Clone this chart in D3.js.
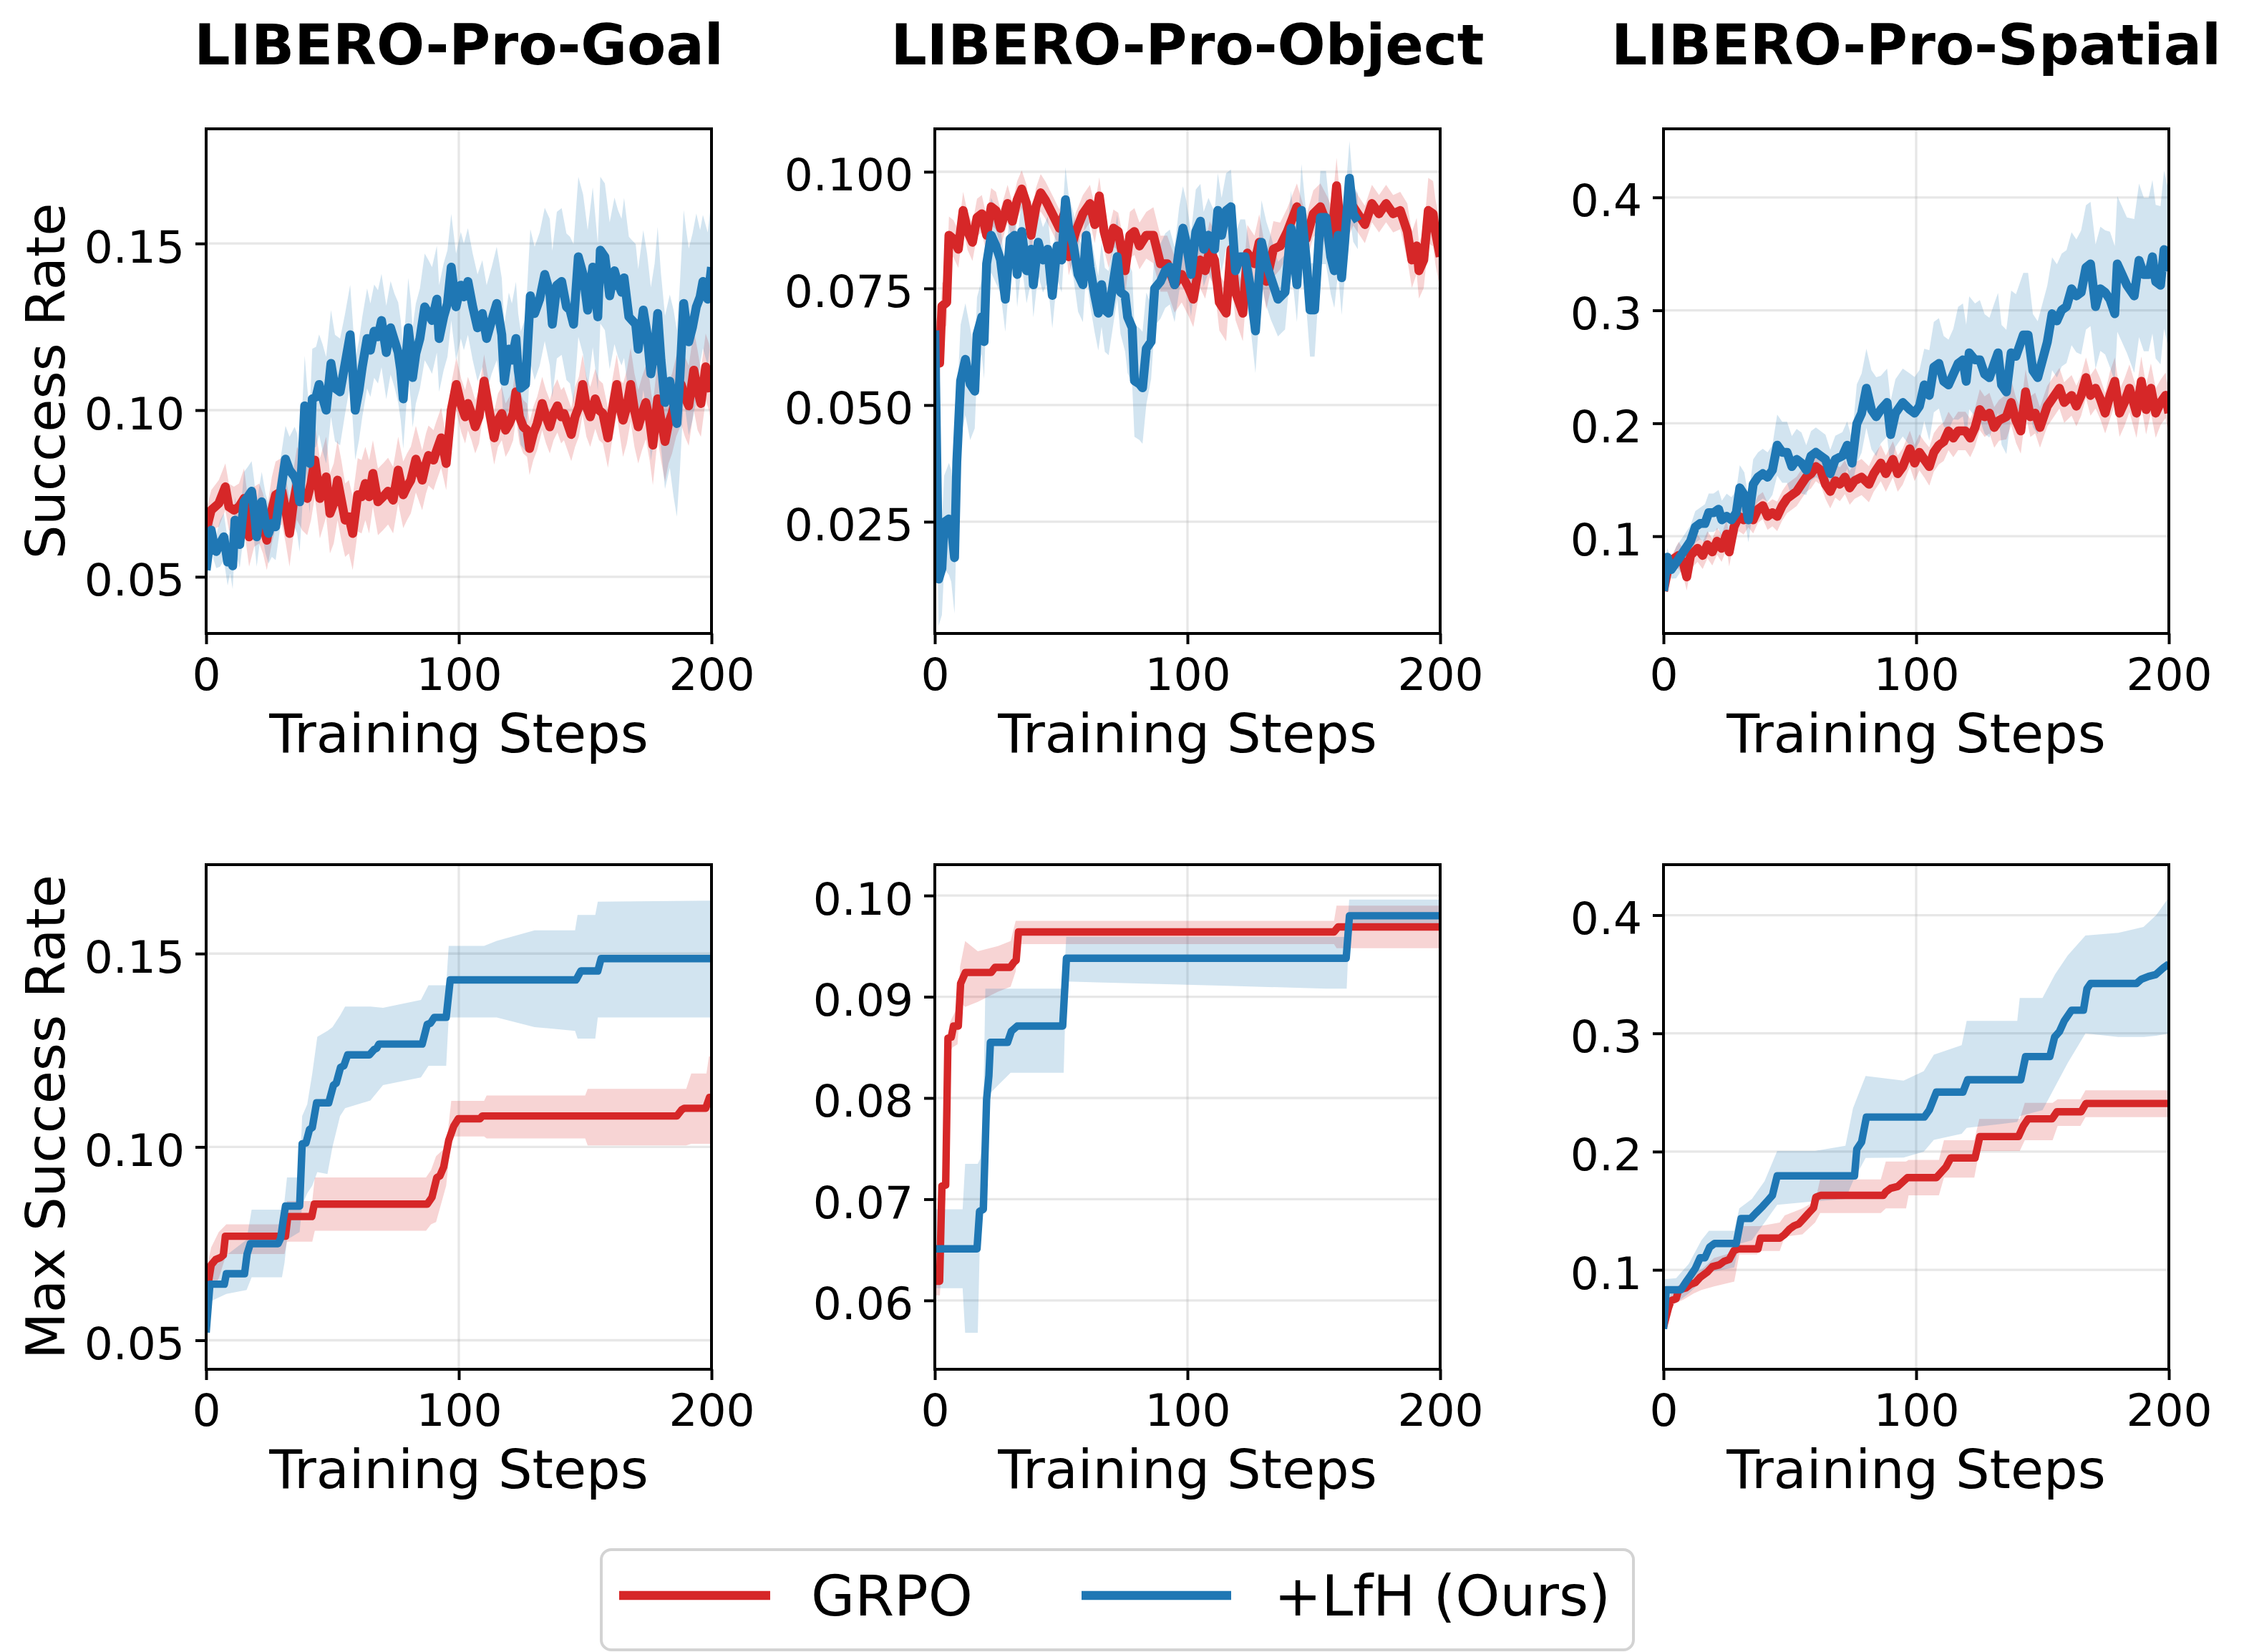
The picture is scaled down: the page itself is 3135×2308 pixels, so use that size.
<!DOCTYPE html>
<html><head><meta charset="utf-8">
<script src="https://cdn.jsdelivr.net/npm/d3@7"></script>
<style>
body{margin:0;background:#fff}
svg{display:block}
text{font-family:"DejaVu Sans",sans-serif;fill:#000}
</style>
</head><body>
<svg id="chart" width="3135" height="2308"></svg>
<script>
// ---------------- DATA ----------------
const datasetTitles = ["LIBERO-Pro-Goal", "LIBERO-Pro-Object", "LIBERO-Pro-Spatial"];
const methodNames = ["GRPO", "+LfH (Ours)"];
const rowLabels = ["Success Rate", "Max Success Rate"];
const xLabel = "Training Steps";
const xTickValues = [0, 100, 200];
const xTickLabels = ["0", "100", "200"];

// y axis limits and tick labels per panel
const yLimGoalSR = [0.033, 0.1844];
const yLimObjectSR = [0.00106, 0.1092];
const yLimSpatialSR = [0.0139, 0.4607];
const yLimGoalMax = [0.0425, 0.173];
const yLimObjectMax = [0.0532, 0.10305];
const yLimSpatialMax = [0.0159, 0.4427];
const yTicksGoalSR = [0.05, 0.10, 0.15];
const yTickLabelsGoalSR = ["0.05", "0.10", "0.15"];
const yTicksObjectSR = [0.025, 0.050, 0.075, 0.100];
const yTickLabelsObjectSR = ["0.025", "0.050", "0.075", "0.100"];
const yTicksSpatialSR = [0.1, 0.2, 0.3, 0.4];
const yTickLabelsSpatialSR = ["0.1", "0.2", "0.3", "0.4"];
const yTicksGoalMax = [0.05, 0.10, 0.15];
const yTickLabelsGoalMax = ["0.05", "0.10", "0.15"];
const yTicksObjectMax = [0.06, 0.07, 0.08, 0.09, 0.10];
const yTickLabelsObjectMax = ["0.06", "0.07", "0.08", "0.09", "0.10"];
const yTicksSpatialMax = [0.1, 0.2, 0.3, 0.4];
const yTickLabelsSpatialMax = ["0.1", "0.2", "0.3", "0.4"];

// ---- Row 1: success rate, [step, mean] ----
const goalSR_grpo = [[0,0.064],[2,0.070],[5,0.072],[7.6,0.077],[9,0.071],[11,0.070],[13,0.071],[15,0.0735],[17,0.062],[19,0.068],[21,0.069],[22.5,0.066],[24,0.061],[26,0.070],[27.5,0.0746],[30,0.0757],[31.5,0.070],[33,0.063],[34.5,0.072],[36,0.078],[38,0.075],[40,0.0735],[41.5,0.078],[43,0.085],[45,0.0735],[47.5,0.080],[49,0.069],[50.5,0.072],[52,0.079],[53.5,0.073],[55,0.067],[56.5,0.068],[58,0.063],[60,0.0746],[61.5,0.074],[63,0.078],[64.5,0.074],[66,0.081],[68,0.0725],[70,0.074],[72,0.0757],[74,0.073],[76,0.082],[78,0.0746],[79.5,0.077],[81,0.079],[83,0.0853],[85.5,0.079],[87,0.084],[88,0.0864],[90,0.085],[91,0.0874],[93,0.0917],[95,0.084],[97,0.100],[99,0.1077],[101,0.1013],[102.5,0.098],[103.6,0.102],[105,0.099],[106.5,0.095],[108,0.098],[110,0.1087],[112,0.100],[114,0.0917],[115.5,0.097],[117,0.099],[118.5,0.094],[120,0.096],[121.5,0.099],[122.6,0.1055],[124,0.098],[125.5,0.095],[127,0.094],[128,0.0885],[129.5,0.093],[131,0.096],[133,0.102],[134.5,0.098],[136,0.095],[137.5,0.099],[139,0.1013],[140.5,0.098],[141.6,0.099],[143,0.096],[144.5,0.0927],[146,0.098],[147.5,0.101],[149,0.1077],[150.5,0.101],[152,0.098],[154,0.1034],[155.5,0.100],[157,0.099],[159,0.0917],[160.5,0.099],[162.5,0.1077],[164,0.100],[165,0.097],[166.5,0.101],[168,0.1077],[169.5,0.100],[171,0.095],[172.5,0.099],[174,0.1023],[175.5,0.097],[176.8,0.0895],[178.7,0.1034],[180,0.097],[181.6,0.0906],[183,0.096],[184.4,0.099],[186,0.104],[188,0.1077],[189.5,0.104],[191,0.1013],[193,0.112],[194.5,0.106],[195.8,0.102],[197.7,0.113],[199,0.110],[200,0.1055]];
const goalSR_lfh = [[0,0.052],[1,0.058],[2,0.064],[3,0.060],[4,0.0576],[5.5,0.060],[7,0.062],[8.5,0.0544],[9.5,0.058],[10.5,0.0533],[11.4,0.067],[12.5,0.062],[13.3,0.0597],[15,0.0725],[16.5,0.074],[18,0.0757],[19,0.070],[20,0.062],[21,0.068],[22,0.0725],[23.5,0.066],[24.7,0.063],[26,0.066],[27.5,0.065],[29.5,0.0757],[31.4,0.0853],[33,0.082],[35,0.080],[36,0.078],[37,0.0725],[38,0.085],[39,0.1013],[40,0.092],[41,0.084],[42,0.1034],[43.5,0.104],[44.7,0.1077],[46,0.104],[47.5,0.100],[49.4,0.114],[51,0.1066],[53,0.1055],[55,0.114],[57,0.1226],[58,0.112],[59,0.100],[60.5,0.106],[61.8,0.113],[63.7,0.1215],[65,0.118],[66.5,0.1237],[68,0.122],[69.4,0.1269],[71.3,0.1173],[73,0.1247],[74.5,0.121],[76,0.1173],[77,0.112],[78,0.1034],[79,0.114],[80,0.1247],[81,0.118],[81.7,0.1098],[83,0.117],[84.6,0.1215],[86.5,0.131],[88,0.129],[89.4,0.1269],[91.3,0.1333],[92.2,0.1215],[94,0.128],[95.5,0.132],[97,0.1429],[98.9,0.131],[100.8,0.1375],[102,0.134],[103.6,0.1386],[105.5,0.131],[107.4,0.1247],[109.3,0.129],[111,0.1215],[113,0.1269],[115,0.132],[117,0.1226],[118,0.1087],[119.8,0.1183],[121,0.115],[122.6,0.1215],[123.5,0.112],[124.5,0.1066],[126.4,0.1077],[128.3,0.1343],[130,0.129],[132,0.1333],[134,0.1407],[136,0.1354],[137,0.1258],[138.8,0.1375],[140.7,0.1386],[142.6,0.131],[144,0.130],[145.4,0.1258],[147.3,0.146],[149.2,0.1407],[151,0.130],[153,0.1429],[155,0.128],[156,0.148],[157.8,0.146],[159.7,0.1343],[161.6,0.1418],[163,0.138],[164.4,0.1354],[165.4,0.1397],[167.3,0.128],[168.5,0.127],[170,0.1258],[171,0.1183],[173,0.130],[174.5,0.123],[176,0.1109],[177.5,0.118],[178.7,0.129],[180,0.115],[181.6,0.1023],[183.5,0.1087],[185,0.102],[186.3,0.096],[187.5,0.110],[189,0.132],[190,0.126],[191,0.1205],[192.5,0.125],[194,0.131],[195.5,0.134],[196.6,0.1386],[198.5,0.1333],[200,0.1429]];
const objectSR_grpo = [[0,0.066],[1.9,0.059],[2.8,0.0712],[4.7,0.072],[5.6,0.0864],[7.4,0.0856],[9.3,0.0834],[11.2,0.0917],[13,0.0872],[14.9,0.0849],[16.7,0.0902],[18.6,0.091],[20.5,0.0864],[22.3,0.0925],[24.2,0.0917],[26,0.0879],[28.8,0.0932],[30.7,0.0894],[32.6,0.094],[34.4,0.0963],[36.3,0.0932],[38.1,0.0864],[40,0.0925],[41.9,0.0955],[43.7,0.094],[46.5,0.091],[49.3,0.0879],[51.2,0.091],[53,0.0818],[55.8,0.0872],[58.6,0.091],[61.4,0.0932],[63.3,0.0887],[65.1,0.0948],[67,0.0872],[68.8,0.0834],[70.7,0.0879],[72.6,0.0872],[75.3,0.0788],[77.2,0.0864],[79,0.0872],[81,0.0841],[83.7,0.0864],[86.5,0.0864],[89.3,0.0803],[92,0.0803],[94.9,0.0758],[97.7,0.078],[100.5,0.075],[102.3,0.0727],[105,0.0811],[107,0.0788],[108.8,0.0834],[110.7,0.0811],[112.6,0.072],[115.3,0.0697],[117.2,0.0834],[119,0.0742],[121.9,0.0697],[123.7,0.0826],[126.5,0.0803],[128.4,0.0849],[131.2,0.0765],[134,0.0834],[136.7,0.0841],[139.5,0.0872],[143.3,0.0925],[147,0.0856],[149.8,0.091],[152.6,0.0925],[155.3,0.0887],[157.2,0.0864],[159,0.097],[161,0.0849],[162.8,0.091],[165.6,0.0925],[168.4,0.0902],[170.2,0.0887],[173,0.0932],[175.8,0.091],[178.6,0.0932],[181.4,0.091],[184.2,0.0917],[187,0.0872],[188.8,0.0811],[190.7,0.0841],[191.6,0.0788],[193.5,0.0811],[195.3,0.0917],[197.2,0.091],[198.1,0.0872],[200,0.0818]];
const objectSR_lfh = [[0,0.066],[1.5,0.0127],[2.8,0.015],[3.7,0.0249],[5.6,0.0256],[6.5,0.0241],[7.8,0.0173],[8.7,0.0378],[10.2,0.0552],[12.1,0.0598],[14,0.0545],[15.8,0.053],[16.7,0.0651],[18.6,0.0689],[19.5,0.0636],[20.5,0.0803],[22.3,0.0864],[24.2,0.0841],[26,0.0811],[27.9,0.0727],[29.8,0.0856],[31.6,0.0864],[32.6,0.078],[34.4,0.0872],[36.3,0.0788],[38.1,0.0834],[39,0.0758],[40.9,0.0849],[42.8,0.0811],[44.7,0.0834],[46.5,0.0735],[48.4,0.0841],[50.2,0.0811],[51.7,0.094],[53,0.0879],[54.9,0.0841],[56.7,0.078],[58.6,0.0758],[59.9,0.0864],[61.4,0.0796],[63.3,0.0735],[64.7,0.0697],[66,0.0758],[67.3,0.0704],[68.8,0.0697],[70.7,0.0765],[72.2,0.0818],[73.5,0.0742],[75.3,0.0735],[76.3,0.0689],[78.1,0.0666],[79,0.0552],[81,0.0545],[82.2,0.0537],[83.7,0.0621],[85.6,0.0636],[87,0.075],[89.3,0.0765],[91.2,0.0788],[93,0.0796],[94.9,0.0758],[96.7,0.0834],[98.2,0.0879],[99.5,0.0849],[101.4,0.078],[103.3,0.0872],[105.1,0.0894],[106.4,0.0834],[108.3,0.0864],[110.7,0.0834],[112,0.0917],[113.5,0.0864],[115.3,0.0917],[117.2,0.0925],[119,0.0788],[120.9,0.0818],[122.8,0.0818],[124.7,0.0758],[126.9,0.0659],[129.3,0.0849],[131.2,0.0803],[133,0.0773],[135.8,0.0727],[138.6,0.0742],[141,0.0879],[143.3,0.0758],[145.1,0.0917],[147,0.0811],[148.5,0.0704],[150.3,0.0704],[152.6,0.0902],[154.8,0.0902],[156.7,0.0818],[158.1,0.0788],[159.6,0.0864],[161,0.0773],[162.2,0.0849],[164.1,0.0986],[165.6,0.091],[167.4,0.0894]];
const spatialSR_grpo = [[0,0.0515],[2,0.0736],[4,0.080],[6,0.083],[7.8,0.0767],[9.2,0.064],[10.7,0.083],[13.5,0.0893],[15.5,0.083],[17.4,0.0924],[19.3,0.0861],[21.2,0.0956],[23,0.0893],[25,0.1019],[26,0.0861],[27.9,0.1082],[29.8,0.1176],[31.7,0.1145],[33.6,0.1208],[35.5,0.1145],[37.4,0.1239],[39.3,0.1271],[41.2,0.1176],[43.1,0.1208],[45,0.1176],[47,0.1271],[48.9,0.1334],[50.8,0.1365],[52.7,0.1397],[54.6,0.146],[56.5,0.1523],[58.4,0.1554],[60.3,0.1617],[62.2,0.1585],[64.1,0.146],[66,0.1397],[68,0.1491],[69.8,0.146],[71.8,0.1523],[73.7,0.1428],[75.6,0.1491],[78.4,0.1523],[81.3,0.146],[83.2,0.1554],[86,0.1648],[88,0.1554],[90.8,0.168],[92.7,0.1554],[94.7,0.1617],[97.5,0.1774],[99.4,0.1648],[101.3,0.1743],[103.2,0.168],[105.2,0.1617],[107,0.1743],[109,0.1806],[110.9,0.1837],[112.8,0.1932],[114.7,0.1869],[116.6,0.1932],[119.5,0.1932],[121.4,0.1869],[123.3,0.1963],[125.2,0.2121],[127.1,0.2058],[129,0.209],[130.9,0.1963],[132.8,0.2026],[135.7,0.2058],[137.6,0.2184],[139.5,0.2026],[141.4,0.1932],[143.3,0.2278],[145.2,0.2058],[147.1,0.209],[149,0.1963],[151.9,0.2152],[154.8,0.2247],[156.7,0.231],[158.6,0.2184],[161.5,0.2247],[163.4,0.2152],[165.3,0.2247],[167.2,0.2404],[169,0.2247],[171,0.231],[172.9,0.2215],[174.8,0.209],[176.7,0.2247],[178.6,0.2372],[180.5,0.209],[182.4,0.2184],[184.4,0.231],[187.2,0.209],[189.1,0.2372],[191,0.2121],[192.9,0.231],[194.8,0.209],[196.7,0.2184],[198.7,0.2247],[200,0.209]];
const spatialSR_lfh = [[0,0.0515],[1.5,0.0814],[3,0.0704],[5,0.0767],[6.9,0.083],[8.8,0.0893],[10.7,0.0956],[12.6,0.1082],[14.5,0.1113],[16.4,0.1113],[17.9,0.1208],[19.8,0.1208],[21.8,0.1239],[23.1,0.1145],[25,0.1176],[26.9,0.1145],[28.8,0.1208],[30.2,0.1428],[32,0.1365],[33.6,0.1145],[35.5,0.146],[37.4,0.1523],[39.3,0.1554],[41.2,0.1523],[43.1,0.1585],[45,0.1806],[47,0.1743],[48.9,0.1743],[50.8,0.1617],[52.7,0.168],[54.6,0.1648],[56.5,0.1585],[58.4,0.1711],[60.3,0.1743],[62.2,0.1711],[64.1,0.168],[66,0.1554],[68,0.168],[70.8,0.1711],[72.7,0.1806],[74.6,0.1648],[76.5,0.1995],[78.4,0.2089],[80.3,0.231],[82.3,0.212],[84.2,0.2058],[86,0.2121],[88.5,0.2184],[89.9,0.19],[91.8,0.209],[94.7,0.2184],[97.5,0.2121],[99.4,0.209],[101.3,0.2152],[103.2,0.234],[105.2,0.2247],[107,0.2498],[109,0.253],[110.9,0.2372],[112.8,0.234],[114.7,0.2435],[116.6,0.253],[118.5,0.2561],[119.8,0.2372],[121,0.2624],[123.3,0.2561],[125.2,0.2561],[127.1,0.2435],[129,0.2404],[130.9,0.253],[132.4,0.2624],[133.8,0.234],[135.7,0.2278],[137.6,0.2624],[139.5,0.2593],[142.4,0.2782],[144.3,0.2782],[146.2,0.2467],[148.1,0.2404],[150,0.2561],[151.9,0.2719],[153.8,0.297],[155.7,0.2907],[157.6,0.3003],[159.5,0.3033],[161.5,0.3191],[163.4,0.3128],[165.3,0.3159],[167.2,0.338],[169,0.3411],[171,0.3033],[172.9,0.3191],[174.8,0.3159],[176.7,0.3096],[178.6,0.297],[179.6,0.3411],[181.5,0.3317],[183.4,0.3222],[186.3,0.3128],[188.2,0.3442],[190.1,0.3317],[192,0.3317],[193.5,0.3474],[194.8,0.3254],[196.7,0.3222],[198.1,0.3537],[200,0.3348]];

// ---- Row 1: standard deviation, sampled every 10 steps (0..200) ----
const sdSteps = [0,10,20,30,40,50,60,70,80,90,100,110,120,130,140,150,160,170,180,190,200];
const goalSR_grpo_sd = [0.006,0.007,0.009,0.010,0.011,0.012,0.011,0.010,0.010,0.009,0.008,0.008,0.008,0.008,0.008,0.009,0.009,0.011,0.012,0.012,0.010];
const goalSR_lfh_sd = [0.005,0.007,0.009,0.010,0.015,0.016,0.015,0.014,0.015,0.016,0.016,0.016,0.017,0.020,0.022,0.024,0.022,0.024,0.026,0.028,0.020];
const objectSR_grpo_sd = [0.005,0.004,0.004,0.004,0.004,0.004,0.004,0.004,0.005,0.006,0.006,0.006,0.006,0.006,0.005,0.005,0.006,0.004,0.004,0.006,0.007];
const objectSR_lfh_sd = [0.010,0.012,0.008,0.007,0.007,0.007,0.008,0.009,0.012,0.008,0.009,0.008,0.008,0.009,0.008,0.010,0.008,0.006,0.006,0.006,0.006];
const spatialSR_grpo_sd = [0.006,0.012,0.012,0.013,0.012,0.013,0.013,0.015,0.016,0.016,0.016,0.017,0.017,0.018,0.020,0.018,0.018,0.018,0.021,0.022,0.020];
const spatialSR_lfh_sd = [0.008,0.014,0.017,0.020,0.022,0.027,0.022,0.021,0.035,0.030,0.032,0.040,0.050,0.053,0.055,0.050,0.050,0.055,0.060,0.068,0.070];

// ---- Row 2: max success rate, [step, value] ----
const goalMax_grpo = [[0,0.065],[1,0.0654],[2,0.0695],[3.8,0.0709],[5.7,0.0714],[6.8,0.0720],[7.6,0.0769],[31.4,0.0769],[32.3,0.0820],[41.8,0.0820],[42.8,0.0852],[87.5,0.0852],[89.4,0.087],[91.3,0.0921],[92.5,0.0925],[94,0.0948],[96,0.1017],[98,0.1054],[99.8,0.1073],[108.4,0.1073],[109.3,0.108],[186.3,0.108],[188.2,0.1096],[189.2,0.110],[197.7,0.110],[199.2,0.1128],[200,0.1128]];
const goalMax_lfh = [[0,0.052],[1.5,0.0645],[7.2,0.0645],[8,0.0672],[15.2,0.0672],[16.2,0.0723],[17.5,0.075],[28.5,0.075],[29.5,0.0764],[30.4,0.0806],[31.4,0.0847],[37,0.0847],[38,0.1008],[39.5,0.101],[40.9,0.1045],[42,0.105],[43.7,0.1114],[48.5,0.1114],[50.4,0.116],[51.5,0.1165],[53.2,0.1206],[54.5,0.121],[56,0.1238],[64.6,0.1238],[66.5,0.1252],[67.5,0.1255],[68.4,0.1266],[85.5,0.1266],[87.5,0.1317],[88.8,0.132],[90.3,0.1335],[95,0.1335],[96.6,0.1432],[146.4,0.1432],[148.3,0.1455],[155,0.1455],[156.3,0.1487],[200,0.1487]];
const objectMax_grpo = [[0,0.0619],[1.9,0.0619],[2.8,0.0713],[4.3,0.0714],[5.2,0.0859],[6.5,0.0860],[7.4,0.0871],[9.3,0.0871],[10.2,0.0913],[12.1,0.0924],[22.3,0.0924],[23.8,0.0929],[29.8,0.0929],[31.3,0.0934],[32.2,0.0936],[33.1,0.0964],[158,0.0964],[159.6,0.0969],[200,0.0969]];
const objectMax_lfh = [[0,0.0651],[16.7,0.0651],[17.7,0.0688],[19.2,0.0690],[20.5,0.0799],[21.4,0.0822],[22,0.0855],[28.8,0.0855],[30.3,0.0866],[32.6,0.0871],[50.6,0.0871],[52.1,0.0938],[162.8,0.0938],[164.1,0.098],[200,0.098]];
const spatialMax_grpo = [[0,0.0515],[2,0.068],[3,0.074],[5,0.0756],[6,0.0831],[8.8,0.0846],[10.7,0.0877],[12.6,0.0892],[14.5,0.0937],[17.4,0.0982],[19.3,0.1027],[22.1,0.1042],[24,0.1072],[26,0.1087],[27.9,0.1163],[29.8,0.1178],[37.4,0.1178],[38.4,0.1268],[46,0.1268],[47.9,0.1298],[49.8,0.1343],[51.7,0.1373],[53.6,0.1389],[55.5,0.1434],[57.4,0.1479],[59.4,0.1524],[60.3,0.1614],[62.2,0.163],[87,0.163],[88,0.166],[89.9,0.169],[92.7,0.1705],[96.6,0.178],[108,0.178],[109.9,0.1825],[111.8,0.187],[113.7,0.1946],[123.3,0.1946],[125.2,0.2127],[140.5,0.2127],[142.4,0.2217],[144.3,0.2277],[153.8,0.2277],[155.7,0.2337],[165.3,0.2337],[167.2,0.2407],[200,0.2407]];
const spatialMax_lfh = [[0,0.050],[1.1,0.0831],[6.9,0.0831],[7.8,0.0861],[9.2,0.0907],[10.7,0.0952],[12.6,0.1012],[14.5,0.1102],[16.4,0.1102],[18.3,0.1193],[20.2,0.1223],[28.8,0.1223],[30.7,0.1434],[34.5,0.1434],[36.5,0.1479],[39.3,0.1539],[41.2,0.1584],[43.1,0.163],[45,0.1795],[75.6,0.1795],[76.5,0.2021],[78.4,0.2081],[80.3,0.2292],[103.2,0.2292],[105.2,0.2352],[108,0.2503],[118.5,0.2503],[120.4,0.2608],[141.4,0.2608],[143.3,0.2804],[152.9,0.2804],[154.8,0.297],[156.7,0.3015],[158.6,0.3105],[161.5,0.3196],[166.2,0.3196],[167.6,0.3377],[169,0.3422],[187.2,0.3422],[189.1,0.3458],[192,0.3482],[194.8,0.3497],[198,0.3557],[200,0.3587]];

// ---- Row 2: bands, [step, low, high] ----
const goalMax_grpo_band = [[0,0.060,0.068],[2,0.063,0.074],[5,0.066,0.078],[8,0.0723,0.080],[31,0.0723,0.080],[32,0.0755,0.086],[42,0.0755,0.086],[43,0.0783,0.0921],[87,0.0783,0.0921],[89,0.0800,0.094],[91,0.0806,0.0976],[95,0.0900,0.100],[97,0.1027,0.1119],[110,0.1027,0.1119],[111,0.1022,0.1133],[150,0.1022,0.1133],[151,0.1004,0.115],[190,0.1004,0.115],[192,0.1008,0.119],[198,0.1008,0.119],[199,0.1008,0.1234],[200,0.1008,0.1234]];
const goalMax_lfh_band = [[0,0.052,0.056],[1.5,0.060,0.068],[8,0.062,0.072],[16,0.063,0.076],[18,0.0663,0.0838],[30,0.0663,0.0838],[31,0.070,0.086],[32,0.076,0.0921],[37,0.078,0.0921],[38,0.085,0.108],[40,0.088,0.111],[42,0.090,0.119],[44,0.0935,0.1285],[48,0.093,0.130],[50,0.100,0.131],[53,0.108,0.134],[55,0.110,0.1363],[65,0.112,0.1363],[70,0.116,0.136],[85,0.118,0.138],[88,0.121,0.1418],[95,0.121,0.1418],[96,0.1335,0.152],[110,0.1335,0.152],[115,0.1335,0.1533],[130,0.131,0.156],[146,0.130,0.156],[147,0.128,0.160],[154,0.128,0.160],[155,0.1335,0.1634],[200,0.1335,0.1637]];
const objectMax_grpo_band = [[0,0.0605,0.063],[2,0.0605,0.063],[3,0.065,0.070],[5,0.074,0.086],[6,0.0845,0.0875],[7,0.085,0.088],[9,0.0853,0.089],[10,0.0895,0.093],[12,0.089,0.0955],[17,0.0895,0.0945],[25,0.0905,0.095],[30,0.091,0.0955],[32,0.0925,0.0975],[33,0.0952,0.0975],[158,0.0952,0.0975],[159,0.0948,0.0990],[200,0.0948,0.0990]];
const objectMax_lfh_band = [[0,0.0612,0.069],[11,0.0612,0.069],[12,0.0568,0.0735],[17,0.0568,0.0735],[18,0.0677,0.0740],[19,0.0690,0.0760],[20,0.080,0.0908],[22,0.0805,0.0908],[30,0.0825,0.0908],[51,0.0825,0.0908],[52,0.0915,0.0959],[113,0.0911,0.0959],[155,0.0908,0.0959],[163,0.0908,0.0959],[164,0.0966,0.0996],[200,0.0966,0.0996]];
const spatialMax_grpo_band = [[0,0.048,0.056],[3,0.070,0.080],[5,0.072,0.084],[8,0.075,0.092],[12,0.080,0.098],[15,0.083,0.100],[20,0.086,0.110],[28,0.090,0.115],[30,0.113,0.137],[37,0.113,0.137],[38,0.116,0.137],[46,0.116,0.140],[48,0.128,0.146],[55,0.130,0.152],[60,0.140,0.158],[62,0.148,0.1765],[86,0.148,0.1765],[88,0.152,0.1916],[96,0.152,0.1916],[97,0.163,0.193],[109,0.163,0.193],[111,0.178,0.2096],[123,0.178,0.2096],[125,0.2006,0.2277],[141,0.2006,0.2277],[143,0.2096,0.2413],[154,0.2096,0.2413],[156,0.2217,0.2443],[165,0.2217,0.2443],[167,0.2292,0.2518],[200,0.2292,0.2518]];
const spatialMax_lfh_band = [[0,0.070,0.092],[5,0.072,0.093],[10,0.080,0.105],[15,0.090,0.125],[18,0.098,0.133],[28,0.102,0.133],[30,0.122,0.152],[35,0.125,0.160],[40,0.140,0.175],[45,0.155,0.2006],[60,0.158,0.2006],[72,0.160,0.205],[75,0.175,0.2367],[80,0.1946,0.264],[95,0.195,0.260],[103,0.200,0.268],[107,0.210,0.282],[118,0.215,0.290],[120,0.220,0.3105],[140,0.225,0.3105],[141,0.230,0.330],[150,0.235,0.330],[155,0.255,0.350],[160,0.275,0.366],[167,0.300,0.3828],[180,0.297,0.385],[190,0.297,0.390],[195,0.298,0.400],[200,0.300,0.415]];

// ---------------- LAYOUT / STYLE ----------------
const COLORS = ["#d62728", "#1f77b4"];
const FONT = '"DejaVu Sans", sans-serif';
const colLeft = [288, 1306, 2324];
const rowTop = [180, 1208];
const PW = 706, PH = 705;

const panels = [
  {r:0,c:0,ylim:yLimGoalSR,ticks:yTicksGoalSR,labels:yTickLabelsGoalSR,mean:[goalSR_grpo,goalSR_lfh],sd:[goalSR_grpo_sd,goalSR_lfh_sd]},
  {r:0,c:1,ylim:yLimObjectSR,ticks:yTicksObjectSR,labels:yTickLabelsObjectSR,mean:[objectSR_grpo,objectSR_lfh],sd:[objectSR_grpo_sd,objectSR_lfh_sd]},
  {r:0,c:2,ylim:yLimSpatialSR,ticks:yTicksSpatialSR,labels:yTickLabelsSpatialSR,mean:[spatialSR_grpo,spatialSR_lfh],sd:[spatialSR_grpo_sd,spatialSR_lfh_sd]},
  {r:1,c:0,ylim:yLimGoalMax,ticks:yTicksGoalMax,labels:yTickLabelsGoalMax,mean:[goalMax_grpo,goalMax_lfh],band:[goalMax_grpo_band,goalMax_lfh_band]},
  {r:1,c:1,ylim:yLimObjectMax,ticks:yTicksObjectMax,labels:yTickLabelsObjectMax,mean:[objectMax_grpo,objectMax_lfh],band:[objectMax_grpo_band,objectMax_lfh_band]},
  {r:1,c:2,ylim:yLimSpatialMax,ticks:yTicksSpatialMax,labels:yTickLabelsSpatialMax,mean:[spatialMax_grpo,spatialMax_lfh],band:[spatialMax_grpo_band,spatialMax_lfh_band]}
];

const svg = d3.select("#chart");
svg.append("rect").attr("width",3135).attr("height",2308).attr("fill","#fff");
const defs = svg.append("defs");

panels.forEach((p, i) => {
  const x0 = colLeft[p.c], y0 = rowTop[p.r];
  const x = d3.scaleLinear().domain([0,200]).range([x0, x0+PW]);
  const y = d3.scaleLinear().domain(p.ylim).range([y0+PH, y0]);
  const g = svg.append("g");

  defs.append("clipPath").attr("id","clip"+i)
    .append("rect").attr("x",x0).attr("y",y0).attr("width",PW).attr("height",PH);

  // grid
  const grid = g.append("g");
  xTickValues.forEach(v => grid.append("line")
    .attr("x1",x(v)).attr("x2",x(v)).attr("y1",y0).attr("y2",y0+PH)
    .attr("stroke","#b0b0b0").attr("stroke-opacity",0.3).attr("stroke-width",3.3));
  p.ticks.forEach(v => grid.append("line")
    .attr("x1",x0).attr("x2",x0+PW).attr("y1",y(v)).attr("y2",y(v))
    .attr("stroke","#b0b0b0").attr("stroke-opacity",0.3).attr("stroke-width",3.3));

  const data = g.append("g").attr("clip-path","url(#clip"+i+")");
  const lw = p.r === 0 ? 12.5 : 10.4;

  // bands
  [0,1].forEach(s => {
    let area;
    if (p.sd) {
      const sd = p.sd[s];
      const sdAt = st => sd[Math.min(sd.length-1, Math.round(st/10))];
      area = d3.area().x(d => x(d[0])).y0(d => y(d[1]-sdAt(d[0]))).y1(d => y(d[1]+sdAt(d[0])));
      data.append("path").datum(p.mean[s]).attr("d",area)
        .attr("fill",COLORS[s]).attr("fill-opacity",0.2);
    } else {
      area = d3.area().x(d => x(d[0])).y0(d => y(d[1])).y1(d => y(d[2]));
      data.append("path").datum(p.band[s]).attr("d",area)
        .attr("fill",COLORS[s]).attr("fill-opacity",0.2);
    }
  });
  // lines
  [0,1].forEach(s => {
    const line = d3.line().x(d => x(d[0])).y(d => y(d[1]));
    data.append("path").datum(p.mean[s]).attr("d",line)
      .attr("fill","none").attr("stroke",COLORS[s]).attr("stroke-width",lw)
      .attr("stroke-linejoin","round").attr("stroke-linecap","butt");
  });

  // axes
  const xa = g.append("g").attr("transform",`translate(0,${y0+PH})`)
    .call(d3.axisBottom(x).tickValues(xTickValues).tickFormat((d,k)=>xTickLabels[k]).tickSize(15).tickSizeOuter(0));
  xa.select(".domain").remove();
  xa.selectAll("line").attr("stroke","#000").attr("stroke-width",4);
  xa.selectAll("text").attr("y",79).attr("dy",null)
    .style("font-family",FONT).style("font-size","63px").attr("fill","#000");

  const ya = g.append("g").attr("transform",`translate(${x0},0)`)
    .call(d3.axisLeft(y).tickValues(p.ticks).tickFormat((d,k)=>p.labels[k]).tickSize(15).tickSizeOuter(0));
  ya.select(".domain").remove();
  ya.selectAll("line").attr("stroke","#000").attr("stroke-width",4);
  ya.selectAll("text").attr("x",-30).attr("dy","26px")
    .style("font-family",FONT).style("font-size","63px").attr("fill","#000");

  // spines
  g.append("rect").attr("x",x0).attr("y",y0).attr("width",PW).attr("height",PH)
    .attr("fill","none").attr("stroke","#000").attr("stroke-width",4);

  // x label
  g.append("text").attr("x",x0+PW/2).attr("y",y0+PH+166)
    .attr("text-anchor","middle").style("font-size","75px").text(xLabel);

  // titles
  if (p.r === 0) {
    g.append("text").attr("x",x0+PW/2).attr("y",90)
      .attr("text-anchor","middle").style("font-size","79px").style("font-weight","bold")
      .text(datasetTitles[p.c]);
  }
  // y label
  if (p.c === 0) {
    g.append("text").attr("transform",`translate(90,${y0+PH/2}) rotate(-90)`)
      .attr("text-anchor","middle").style("font-size","75px").text(rowLabels[p.r]);
  }
});

// legend
const lg = svg.append("g");
lg.append("rect").attr("x",840).attr("y",2165).attr("width",1442).attr("height",140)
  .attr("rx",14).attr("ry",14).attr("fill","#fff").attr("stroke","#d3d3d3").attr("stroke-width",4);
const legendItems = [
  {x1:865, x2:1076, tx:1133},
  {x1:1511, x2:1720, tx:1780}
];
legendItems.forEach((it, k) => {
  lg.append("line").attr("x1",it.x1).attr("x2",it.x2).attr("y1",2229).attr("y2",2229)
    .attr("stroke",COLORS[k]).attr("stroke-width",12.5);
  lg.append("text").attr("x",it.tx).attr("y",2257).style("font-size","79px").text(methodNames[k]);
});
</script>
</body></html>
